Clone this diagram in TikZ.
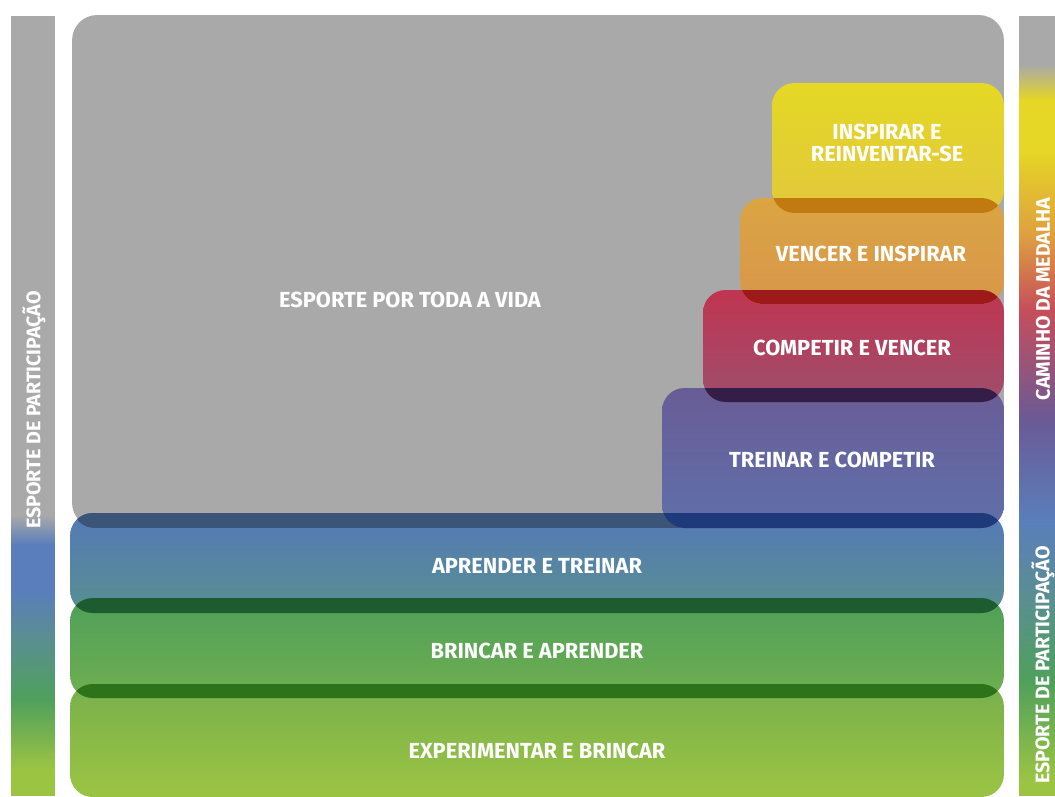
\documentclass[tikz,border=0pt]{standalone}
\usepackage{fontspec}
\setmainfont{Fira Sans}
\usepackage{tikz}
\usetikzlibrary{positioning,calc}

\definecolor{lifeGray}{HTML}{A9A9A9}
\definecolor{learnTop}{HTML}{5479B8}
\definecolor{learnBot}{HTML}{58908F}
\definecolor{playTop}{HTML}{4F9F5A}
\definecolor{playBot}{HTML}{6FAF50}
\definecolor{tryTop}{HTML}{78B04C}
\definecolor{tryBot}{HTML}{9CC443}
\definecolor{trainTop}{HTML}{695C96}
\definecolor{trainBot}{HTML}{5F70AA}
\definecolor{compTop}{HTML}{C03550}
\definecolor{compBot}{HTML}{9E4E6E}
\definecolor{winTop}{HTML}{DAA542}
\definecolor{winBot}{HTML}{D8964B}
\definecolor{inspTop}{HTML}{E4D824}
\definecolor{inspBot}{HTML}{E2C83C}
% darker bands where two layers overlap
\definecolor{ovLifeLearn}{HTML}{3A5578}
\definecolor{ovLearnPlay}{HTML}{1C5C30}
\definecolor{ovPlayTry}{HTML}{2D7319}
\definecolor{ovTrainLearn}{HTML}{1E3A7A}
\definecolor{ovCompTrain}{HTML}{341E48}
\definecolor{ovWinComp}{HTML}{9E1A1A}
\definecolor{ovInspWin}{HTML}{C07A10}
% side bars
\definecolor{barLime}{HTML}{9CC443}
\definecolor{barGreen}{HTML}{4FA05C}
\definecolor{barTeal}{HTML}{5A8F90}
\definecolor{barBlue}{HTML}{5A7EBB}
\definecolor{barPurple}{HTML}{6A5A96}
\definecolor{barRed}{HTML}{C64E5A}
\definecolor{barOrange}{HTML}{DFA040}
\definecolor{barYellow}{HTML}{E6D625}

\pgfdeclareverticalshading{leftbar}{100bp}{color(0bp)=(barLime); color(26.7bp)=(barLime);
  color(31.2bp)=(barGreen); color(35bp)=(barTeal); color(38.2bp)=(barBlue);
  color(41.1bp)=(barBlue); color(43bp)=(lifeGray); color(100bp)=(lifeGray)}
\pgfdeclareverticalshading{rightbar}{100bp}{color(0bp)=(barLime); color(26bp)=(barLime);
  color(32.4bp)=(barGreen); color(37.6bp)=(barTeal); color(42.7bp)=(barBlue);
  color(49.1bp)=(barPurple); color(56.2bp)=(barRed); color(61bp)=(barOrange);
  color(66.4bp)=(barYellow); color(69.6bp)=(barYellow); color(71.9bp)=(lifeGray);
  color(100bp)=(lifeGray)}

\newcommand{\overlap}[3]{% clip to #1, fill #2 in colour #3
  \begin{scope}
    \clip[rounded corners=0.45cm] (#1.south west) rectangle (#1.north east);
    \fill[#3,rounded corners=0.45cm] (#2.south west) rectangle (#2.north east);
  \end{scope}}

\begin{document}
\begin{tikzpicture}[x=0.02cm,y=-0.02cm,
  every node/.style={inner sep=0pt,outer sep=0pt},
  layer/.style={rounded corners=0.45cm,minimum width=18.68cm,minimum height=2cm},
  stepbox/.style={rounded corners=0.45cm},
  lab/.style={text=white,font=\fontsize{12.4}{12.4}\selectfont\bfseries,align=center},
  sidelab/.style={text=white,font=\fontsize{11.2}{12}\selectfont\bfseries,rotate=90}]
\useasboundingbox[fill=white] (0,0) rectangle (1055,796);

% side bars
\node[shading=leftbar,minimum width=0.88cm,minimum height=15.6cm] (lbar) at (33,406) {};
\node[shading=rightbar,minimum width=0.96cm,minimum height=15.6cm] (rbar) at (1043,406) {};

% base layers
\node[layer,fill=lifeGray,minimum width=18.64cm,minimum height=10.26cm,rounded corners=0.5cm] (life) at (538,271.5) {};
\node[layer,top color=learnTop,bottom color=learnBot] (learn) at (537,563) {};
\node[layer,top color=playTop,bottom color=playBot] (play) at (537,648) {};
\node[layer,top color=tryTop,bottom color=tryBot,minimum height=2.26cm] (try) at (537,740.5) {};
\overlap{learn}{life}{ovLifeLearn}
\overlap{play}{learn}{ovLearnPlay}
\overlap{try}{play}{ovPlayTry}

% medal pathway steps
\node[stepbox,top color=trainTop,bottom color=trainBot,minimum width=6.84cm,minimum height=2.8cm] (train) at (833,458) {};
\node[stepbox,top color=compTop,bottom color=compBot,minimum width=6.02cm,minimum height=2.24cm] (comp) at (853.5,346) {};
\node[stepbox,top color=winTop,bottom color=winBot,minimum width=5.28cm,minimum height=2.12cm] (win) at (872,251) {};
\node[stepbox,top color=inspTop,bottom color=inspBot,minimum width=4.64cm,minimum height=2.6cm] (insp) at (888,148) {};
\overlap{train}{learn}{ovTrainLearn}
\overlap{train}{comp}{ovCompTrain}
\overlap{comp}{win}{ovWinComp}
\overlap{win}{insp}{ovInspWin}

% labels
\node[lab] (lifelab) at (410,300) {ESPORTE POR TODA A VIDA};
\node[lab] (inspl) at (887,143) {INSPIRAR E\\REINVENTAR-SE};
\node[lab] (winl) at (871,254) {VENCER E INSPIRAR};
\node[lab] (compl) at (852,348) {COMPETIR E VENCER};
\node[lab] (trainl) at (832,460) {TREINAR E COMPETIR};
\node[lab] (learnl) at (537,566) {APRENDER E TREINAR};
\node[lab] (playl) at (537,651) {BRINCAR E APRENDER};
\node[lab] (tryl) at (537,751) {EXPERIMENTAR E BRINCAR};

\node[sidelab] (lside) at (34,410) {ESPORTE DE PARTICIPAÇÃO};
\node[sidelab] (medal) at (1043,299) {CAMINHO DA MEDALHA};
\node[sidelab] (rside) at (1043,665) {ESPORTE DE PARTICIPAÇÃO};
\end{tikzpicture}
\end{document}
